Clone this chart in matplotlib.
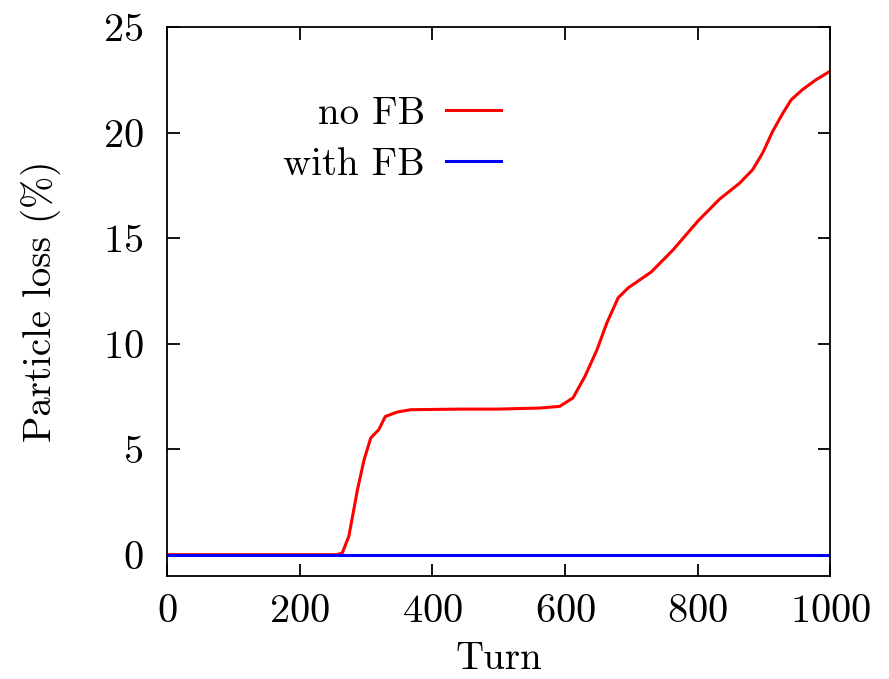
import numpy as np
import matplotlib
matplotlib.use("Agg")
import matplotlib.pyplot as plt

plt.rcParams["font.family"] = "cmr10"
plt.rcParams["mathtext.fontset"] = "cm"
plt.rcParams["axes.formatter.use_mathtext"] = True

# Particle loss without feedback
turn_nofb = [0, 100, 200, 255, 264, 274, 287, 297, 307, 319, 329, 347, 367, 442,
             500, 562, 592, 612, 630, 648, 663, 680, 695, 713, 730, 763, 800, 833,
             863, 883, 898, 913, 928, 941, 958, 978, 1000]
loss_nofb = [0.0, 0.0, 0.0, 0.0, 0.08, 0.87, 3.08, 4.5, 5.53, 5.92, 6.55, 6.76, 6.87, 6.9,
             6.9, 6.95, 7.03, 7.43, 8.45, 9.7, 10.98, 12.17, 12.64, 13.03, 13.4, 14.45, 15.8, 16.85,
             17.6, 18.25, 19.04, 20.06, 20.9, 21.56, 22.04, 22.5, 22.92]

# Particle loss with feedback
turn_fb = [0, 1000]
loss_fb = [0.0, 0.0]

fig = plt.figure(figsize=(8.89, 6.79), dpi=100)
ax = fig.add_axes([0.188, 0.152, 0.746, 0.808])

ax.plot(turn_nofb, loss_nofb, color="#ff0000", linewidth=2.2, label="no FB")
ax.plot(turn_fb, loss_fb, color="#0000ff", linewidth=2.2, label="with FB")

ax.set_xlim(0, 1000)
ax.set_ylim(-1, 25)
ax.set_xticks([0, 200, 400, 600, 800, 1000])
ax.set_yticks([0, 5, 10, 15, 20, 25])
ax.tick_params(direction="in", length=9, width=1.3, labelsize=29,
               top=True, right=True)
ax.tick_params(axis="x", pad=13)
ax.tick_params(axis="y", pad=17)
for s in ax.spines.values():
    s.set_linewidth(1.3)

ax.set_xlabel("Turn", fontsize=28, labelpad=8)
ax.set_ylabel("Particle loss (%)", fontsize=28, labelpad=30)

ax.legend(loc="upper right", bbox_to_anchor=(0.503, 0.875), frameon=False,
          markerfirst=False, fontsize=28, handlelength=1.4, handletextpad=0.55,
          labelspacing=0.4, borderpad=0, borderaxespad=0)

fig.savefig("out.png", dpi=100)
